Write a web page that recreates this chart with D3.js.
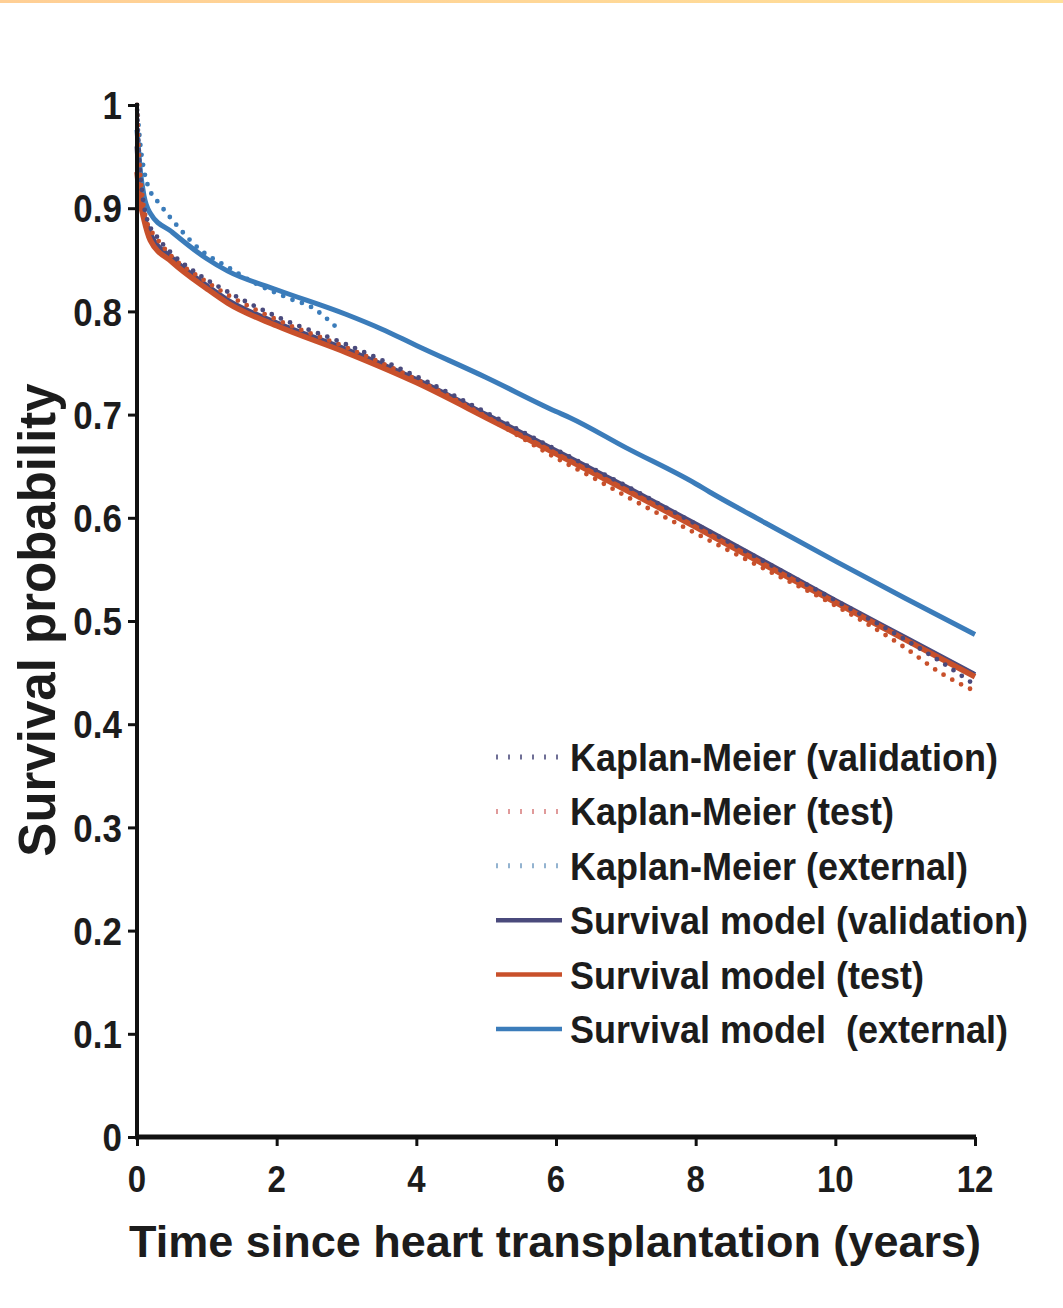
<!DOCTYPE html>
<html>
<head>
<meta charset="utf-8">
<script src="https://cdn.jsdelivr.net/npm/d3@7"></script>
<style>
  html, body { margin: 0; padding: 0; background: #ffffff; }
  svg { display: block; }
</style>
</head>
<body>
<div id="chart"></div>
<script>
// ---------- Data ----------
const yTicks = [0, 0.1, 0.2, 0.3, 0.4, 0.5, 0.6, 0.7, 0.8, 0.9, 1];
const yTickLabels = ["0", "0.1", "0.2", "0.3", "0.4", "0.5", "0.6", "0.7", "0.8", "0.9", "1"];
const xTicks = [0, 2, 4, 6, 8, 10, 12];
const xTickLabels = ["0", "2", "4", "6", "8", "10", "12"];

// Survival model (validation)
const modelValT = [0, 0.05, 0.1, 0.2, 0.5, 1, 1.3, 2, 3, 4, 5, 6, 7, 8, 9, 10, 11, 12];
const modelValS = [0.96, 0.912, 0.893, 0.874, 0.852, 0.825, 0.811, 0.789, 0.763, 0.734, 0.700, 0.665, 0.630, 0.594, 0.557, 0.520, 0.484, 0.448];
// Survival model (test)
const modelTestT = [0, 0.05, 0.1, 0.19, 0.5, 1, 1.3, 2, 3, 4, 5, 6, 7, 8, 9, 10, 11, 12];
const modelTestS = [0.935, 0.905, 0.889, 0.869, 0.848, 0.822, 0.808, 0.786, 0.760, 0.731, 0.697, 0.662, 0.627, 0.591, 0.554, 0.518, 0.482, 0.446];
// Survival model (external)
const modelExtT = [0, 0.05, 0.1, 0.19, 0.5, 1, 1.3, 2, 3, 3.5, 4, 5, 6, 6.2, 7, 8, 8.2, 9, 10, 11, 12];
const modelExtS = [0.976, 0.935, 0.912, 0.895, 0.877, 0.851, 0.839, 0.821, 0.797, 0.783, 0.767, 0.736, 0.703, 0.697, 0.668, 0.633, 0.625, 0.595, 0.558, 0.522, 0.487];

// Kaplan-Meier (validation)
const kmValT = [0, 0.03, 0.08, 0.15, 0.26, 0.5, 0.9, 1.3, 2, 3, 4, 5, 6, 7, 8, 9, 10, 11, 11.5, 12];
const kmValS = [1.0, 0.95, 0.912, 0.888, 0.875, 0.856, 0.835, 0.819, 0.795, 0.768, 0.737, 0.702, 0.666, 0.631, 0.594, 0.557, 0.520, 0.482, 0.461, 0.438];
// Kaplan-Meier (test)
const kmTestT = [0, 0.03, 0.08, 0.15, 0.26, 0.5, 0.9, 1.3, 2, 3, 4, 5, 6, 6.5, 7, 8, 9, 10, 11, 11.5, 12];
const kmTestS = [1.0, 0.95, 0.91, 0.885, 0.873, 0.853, 0.833, 0.816, 0.792, 0.765, 0.734, 0.698, 0.658, 0.640, 0.621, 0.585, 0.550, 0.515, 0.474, 0.450, 0.432];
// Kaplan-Meier (external)
const kmExtT = [0, 0.05, 0.1, 0.2, 0.3, 0.5, 0.9, 1.3, 1.7, 2.2, 2.5, 2.85];
const kmExtS = [1.0, 0.96, 0.937, 0.915, 0.906, 0.889, 0.860, 0.843, 0.827, 0.812, 0.804, 0.785];

const seriesNames = [
  "Kaplan-Meier (validation)",
  "Kaplan-Meier (test)",
  "Kaplan-Meier (external)",
  "Survival model (validation)",
  "Survival model (test)",
  "Survival model  (external)"
];

const xTitle = "Time since heart transplantation (years)";
const yTitle = "Survival probability";

// ---------- Layout ----------
const W = 1063, H = 1308;
const x0 = 137, x1 = 975, yTop = 105, yBot = 1137;
const C_NAVY = "#4a4a7c", C_RED = "#c8502b", C_BLUE = "#3b7cba";
const TXT = "#1c1c1c";
const FONT = "'Liberation Sans', Arial, Helvetica, sans-serif";

const svg = d3.select("#chart").append("svg").attr("width", W).attr("height", H);

// top orange strip
const defs = svg.append("defs");
const grad = defs.append("linearGradient").attr("id", "topband");
grad.append("stop").attr("offset", "0%").attr("stop-color", "#ffcf95");
grad.append("stop").attr("offset", "100%").attr("stop-color", "#ffdf99");
svg.append("rect").attr("x", 0).attr("y", 0).attr("width", W).attr("height", 3).attr("fill", "url(#topband)");

const x = d3.scaleLinear().domain([0, 12]).range([x0, x1]);
const y = d3.scaleLinear().domain([0, 1]).range([yBot, yTop]);

const zip = (T, S) => T.map((t, i) => ({ t, s: S[i] }));
const line = d3.line().x(d => x(d.t)).y(d => y(d.s)).curve(d3.curveMonotoneX);

// ---------- Curves ----------
const models = [
  { data: zip(modelValT, modelValS), color: C_NAVY, w: 5 },
  { data: zip(modelExtT, modelExtS), color: C_BLUE, w: 5 },
  { data: zip(modelTestT, modelTestS), color: C_RED, w: 5.5 }
];
svg.append("g").selectAll("path").data(models).join("path")
  .attr("d", d => line(d.data))
  .attr("fill", "none")
  .attr("stroke", d => d.color)
  .attr("stroke-width", d => d.w)
  .attr("stroke-linejoin", "round");

const kms = [
  { data: zip(kmExtT, kmExtS), color: C_BLUE, off: 0 },
  { data: zip(kmTestT, kmTestS), color: C_RED, off: 0 },
  { data: zip(kmValT, kmValS), color: C_NAVY, off: 5 }
];
svg.append("g").selectAll("path").data(kms).join("path")
  .attr("d", d => line(d.data))
  .attr("fill", "none")
  .attr("stroke", d => d.color)
  .attr("stroke-width", 4.8)
  .attr("stroke-linecap", "round")
  .attr("stroke-dasharray", "0 10")
  .attr("stroke-dashoffset", d => d.off);

// ---------- Axes ----------
const yAxis = d3.axisLeft(y).tickValues(yTicks).tickSize(9).tickFormat("");
const gy = svg.append("g").attr("transform", `translate(${x0},0)`).call(yAxis);
gy.select(".domain").attr("stroke", "#111").attr("stroke-width", 4).attr("d", `M0,${yTop - 2}V${yBot}`);
gy.selectAll(".tick line").attr("stroke", "#111").attr("stroke-width", 3);

const xAxis = d3.axisBottom(x).tickValues(xTicks).tickSize(9).tickFormat("");
const gx = svg.append("g").attr("transform", `translate(0,${yBot})`).call(xAxis);
gx.select(".domain").attr("stroke", "#111").attr("stroke-width", 5).attr("d", `M${x0 - 2},0H${x1 + 1}`);
gx.selectAll(".tick line").attr("stroke", "#111").attr("stroke-width", 3);

// tick labels (slightly tall bold font)
svg.append("g").selectAll("g").data(yTicks).join("g")
  .attr("transform", d => `translate(122,${y(d)}) scale(1,1.12)`)
  .append("text")
  .attr("text-anchor", "end")
  .attr("dy", "0.36em")
  .attr("font-family", FONT).attr("font-weight", "bold").attr("font-size", 35)
  .attr("fill", TXT)
  .text((d, i) => yTickLabels[i]);

svg.append("g").selectAll("g").data(xTicks).join("g")
  .attr("transform", d => `translate(${x(d)},1192) scale(1,1.1)`)
  .append("text")
  .attr("text-anchor", "middle")
  .attr("font-family", FONT).attr("font-weight", "bold").attr("font-size", 33)
  .attr("fill", TXT)
  .text((d, i) => xTickLabels[i]);

// axis titles
svg.append("text")
  .attr("x", 555).attr("y", 1257)
  .attr("text-anchor", "middle")
  .attr("font-family", FONT).attr("font-weight", "bold").attr("font-size", 45)
  .attr("fill", TXT)
  .text(xTitle);

svg.append("text")
  .attr("transform", "translate(55,620) rotate(-90)")
  .attr("text-anchor", "middle")
  .attr("font-family", FONT).attr("font-weight", "bold").attr("font-size", 51)
  .attr("fill", TXT)
  .text(yTitle);

// ---------- Legend ----------
const legendItems = [
  { name: seriesNames[0], color: "#6f6f96", dotted: true },
  { name: seriesNames[1], color: "#e09a9a", dotted: true },
  { name: seriesNames[2], color: "#93b3d0", dotted: true },
  { name: seriesNames[3], color: C_NAVY, dotted: false },
  { name: seriesNames[4], color: C_RED, dotted: false },
  { name: seriesNames[5], color: C_BLUE, dotted: false }
];
const legY = d3.scalePoint().domain(d3.range(legendItems.length)).range([757, 1029]);
const lg = svg.append("g").selectAll("g").data(legendItems).join("g")
  .attr("transform", (d, i) => `translate(0,${legY(i)})`);
lg.append("line")
  .attr("x1", 496).attr("x2", d => d.dotted ? 560 : 562)
  .attr("y1", 0).attr("y2", 0)
  .attr("stroke", d => d.color)
  .attr("stroke-width", d => d.dotted ? 5 : 4.5)
  .attr("stroke-dasharray", d => d.dotted ? "2 10" : null);
lg.append("g").attr("transform", "translate(570,14) scale(1,1.07)")
  .append("text")
  .attr("font-family", FONT).attr("font-weight", "bold").attr("font-size", 36)
  .attr("fill", TXT)
  .style("white-space", "pre")
  .text(d => d.name);
</script>
</body>
</html>
